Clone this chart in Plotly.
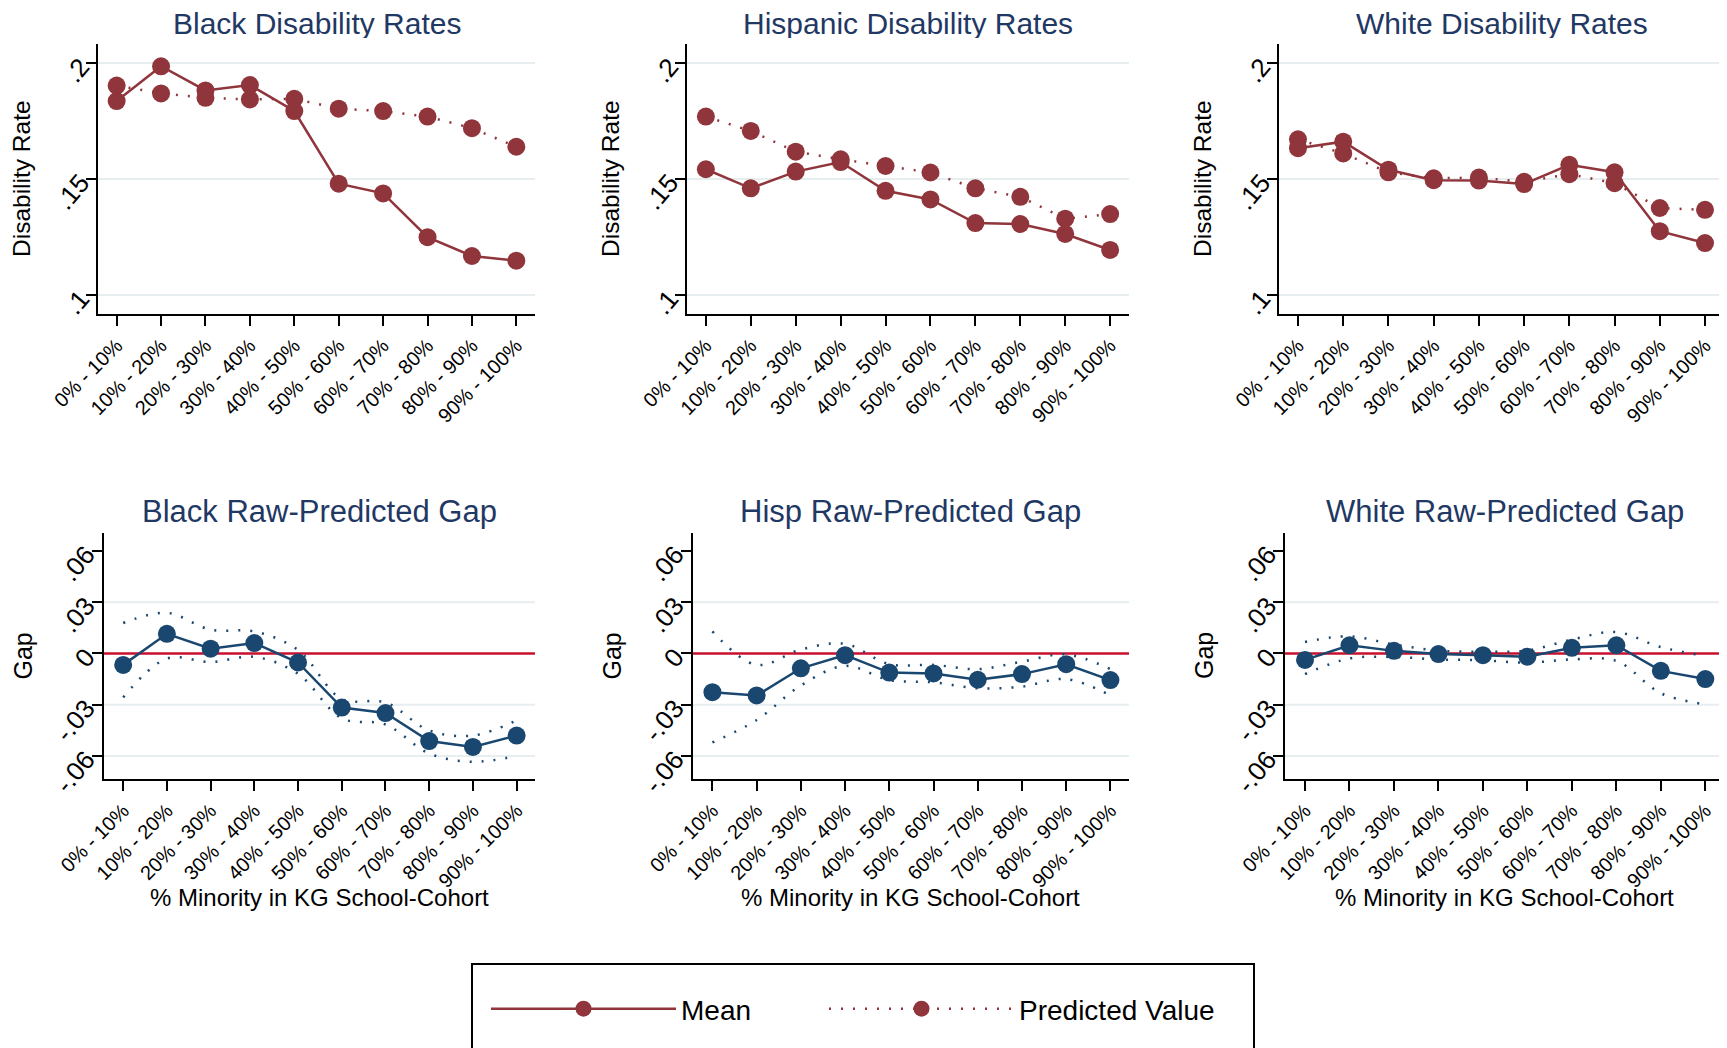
import plotly.graph_objects as go
from plotly.subplots import make_subplots

# --- data ---
categories = ["0% - 10%", "10% - 20%", "20% - 30%", "30% - 40%", "40% - 50%",
              "50% - 60%", "60% - 70%", "70% - 80%", "80% - 90%", "90% - 100%"]

black_mean = [0.1837, 0.1987, 0.1883, 0.1906, 0.1794, 0.1481, 0.1439, 0.1250, 0.1169, 0.1149]
black_pred = [0.1904, 0.1870, 0.1851, 0.1844, 0.1847, 0.1804, 0.1794, 0.1770, 0.1720, 0.1640]
hisp_mean = [0.1543, 0.1461, 0.1533, 0.1574, 0.1450, 0.1413, 0.1311, 0.1307, 0.1264, 0.1195]
hisp_pred = [0.1770, 0.1708, 0.1619, 0.1586, 0.1557, 0.1529, 0.1461, 0.1424, 0.1330, 0.1350]
white_mean = [0.1634, 0.1662, 0.1541, 0.1496, 0.1494, 0.1479, 0.1562, 0.1530, 0.1276, 0.1225]
white_pred = [0.1672, 0.1611, 0.1530, 0.1504, 0.1507, 0.1489, 0.1522, 0.1483, 0.1376, 0.1368]

black_gap = [-0.0067, 0.0115, 0.0028, 0.0061, -0.0053, -0.0317, -0.0349, -0.0513, -0.0547, -0.0481]
black_hi = [0.0178, 0.0238, 0.0139, 0.0129, 0.0020, -0.0267, -0.0287, -0.0451, -0.0481, -0.0392]
black_lo = [-0.0257, -0.0030, -0.0050, -0.0020, -0.0119, -0.0380, -0.0416, -0.0586, -0.0634, -0.0600]
hisp_gap = [-0.0227, -0.0246, -0.0087, -0.0010, -0.0112, -0.0117, -0.0154, -0.0121, -0.0063, -0.0156]
hisp_hi = [0.0129, -0.0067, 0.0023, 0.0056, -0.0063, -0.0067, -0.0092, -0.0048, -0.0006, -0.0092]
hisp_lo = [-0.0521, -0.0390, -0.0188, -0.0073, -0.0156, -0.0169, -0.0204, -0.0194, -0.0150, -0.0246]
white_gap = [-0.0038, 0.0048, 0.0015, -0.0004, -0.0010, -0.0019, 0.0033, 0.0048, -0.0102, -0.0150]
white_hi = [0.0067, 0.0100, 0.0052, 0.0017, 0.0010, 0.0017, 0.0081, 0.0125, 0.0037, -0.0015]
white_lo = [-0.0121, -0.0029, -0.0021, -0.0035, -0.0040, -0.0054, -0.0035, -0.0044, -0.0233, -0.0298]

top_titles = ["Black Disability Rates", "Hispanic Disability Rates", "White Disability Rates"]
bottom_titles = ["Black Raw-Predicted Gap", "Hisp Raw-Predicted Gap", "White Raw-Predicted Gap"]

rate_ticks = [0.1, 0.15, 0.2]
rate_labels = [".1", ".15", ".2"]
gap_ticks = [-0.06, -0.03, 0, 0.03, 0.06]
gap_labels = ["-.06", "-.03", "0", ".03", ".06"]
gap_grid = [-0.06, -0.03, 0.03]

# --- styling ---
W, H = 1727, 1048
PAGE_PAD = 8  # the browser's default body margin shifts the figure
FONT = "Liberation Sans, Arial, sans-serif"
MAROON = "#90353B"
NAVY = "#1A476F"
TITLE_C = "#1F3864"
ZERO_C = "#C8102E"
GRID_C = "#E6EEF0"
DOTS = "2px,10px"


def fx(p):
    return (p - PAGE_PAD) / W


def fy(p):
    return 1 - (p - PAGE_PAD) / H


# panel edges in screen pixels
TOP_X = [(98, 535), (687, 1129), (1279, 1724)]
BOT_X = [(103.5, 535), (692.5, 1129), (1285, 1724)]
TOP_Y = (44, 314)
BOT_Y = (533, 779)

fig = make_subplots(rows=2, cols=3)

rates = [(black_mean, black_pred), (hisp_mean, hisp_pred), (white_mean, white_pred)]
gaps = [(black_gap, black_hi, black_lo), (hisp_gap, hisp_hi, hisp_lo),
        (white_gap, white_hi, white_lo)]

for i, (mean, pred) in enumerate(rates):
    col = i + 1
    fig.add_trace(go.Scatter(x=categories, y=pred, mode="lines+markers", name="Predicted Value",
                             line=dict(color=MAROON, width=2.5, dash=DOTS),
                             marker=dict(color=MAROON, size=18),
                             showlegend=(i == 0), legend="legend2"), row=1, col=col)
    fig.add_trace(go.Scatter(x=categories, y=mean, mode="lines+markers", name="Mean",
                             line=dict(color=MAROON, width=2.5),
                             marker=dict(color=MAROON, size=18),
                             showlegend=(i == 0), legend="legend"), row=1, col=col)

for i, (gap, hi, lo) in enumerate(gaps):
    col = i + 1
    for band in (hi, lo):
        fig.add_trace(go.Scatter(x=categories, y=band, mode="lines", line_shape="spline",
                                 line=dict(color=NAVY, width=2.5, dash=DOTS),
                                 showlegend=False), row=2, col=col)
    fig.add_trace(go.Scatter(x=categories, y=gap, mode="lines+markers",
                             line=dict(color=NAVY, width=2.5),
                             marker=dict(color=NAVY, size=18),
                             showlegend=False), row=2, col=col)
    for g in gap_grid:
        fig.add_hline(y=g, line=dict(color=GRID_C, width=2), layer="below", row=2, col=col)
    fig.add_hline(y=0, line=dict(color=ZERO_C, width=2.5), layer="below", row=2, col=col)

axis_common = dict(showline=True, linecolor="black", linewidth=2, ticks="outside",
                   ticklen=10, tickwidth=2, tickcolor="black", zeroline=False,
                   automargin=False)
xfont = dict(family=FONT, size=20, color="black")
yfont = dict(family=FONT, size=26, color="black")


def note(text, x, y, size, color="black", angle=0, box_h=None):
    fig.add_annotation(text=text, x=fx(x), y=fy(y), xref="paper", yref="paper",
                       xanchor="center", yanchor="middle", showarrow=False,
                       textangle=angle, height=box_h,
                       font=dict(family=FONT, size=size, color=color))


for i in range(3):
    col = i + 1
    fig.update_xaxes(domain=[fx(TOP_X[i][0]), fx(TOP_X[i][1])], range=[-0.42, 9.42],
                     tickangle=-45, tickfont=xfont, showgrid=False, row=1, col=col, **axis_common)
    fig.update_xaxes(domain=[fx(BOT_X[i][0]), fx(BOT_X[i][1])], range=[-0.45, 9.42],
                     tickangle=-45, tickfont=xfont, showgrid=False, row=2, col=col, **axis_common)
    fig.update_yaxes(domain=[fy(TOP_Y[1]), fy(TOP_Y[0])], range=[0.0919, 0.2083],
                     tickvals=rate_ticks, ticktext=rate_labels, tickangle=-50, tickfont=yfont,
                     showgrid=True, gridcolor=GRID_C, gridwidth=2, row=1, col=col, **axis_common)
    fig.update_yaxes(domain=[fy(BOT_Y[1]), fy(BOT_Y[0])], range=[-0.0735, 0.0705],
                     tickvals=gap_ticks, ticktext=gap_labels, tickangle=-50, tickfont=yfont,
                     showgrid=False, row=2, col=col, **axis_common)

    note(top_titles[i], sum(TOP_X[i]) / 2, 23, 30, TITLE_C, box_h=30)
    note(bottom_titles[i], sum(BOT_X[i]) / 2, 511, 31, TITLE_C)
    note("Disability Rate", TOP_X[i][0] - 76, sum(TOP_Y) / 2, 24.5, angle=-90)
    note("Gap", BOT_X[i][0] - 81, sum(BOT_Y) / 2, 25, angle=-90)
    note("% Minority in KG School-Cohort", sum(BOT_X[i]) / 2, 897, 24)

# legend frame (runs off the bottom edge like the original)
fig.add_shape(type="rect", xref="paper", yref="paper",
              x0=fx(472), x1=fx(1254), y0=fy(1090), y1=fy(964),
              line=dict(color="black", width=2), fillcolor="rgba(0,0,0,0)")

legend_common = dict(orientation="h", xanchor="left", yanchor="middle", y=fy(1009),
                     font=dict(family=FONT, size=28, color="black"),
                     bgcolor="rgba(0,0,0,0)", borderwidth=0, itemwidth=185)

fig.update_layout(
    width=W, height=H,
    margin=dict(l=0, r=0, t=0, b=0),
    paper_bgcolor="white", plot_bgcolor="white",
    font=dict(family=FONT, color="black"),
    showlegend=True,
    legend=dict(x=fx(486), **legend_common),
    legend2=dict(x=fx(824), **legend_common),
)

fig.write_html("out.html")
